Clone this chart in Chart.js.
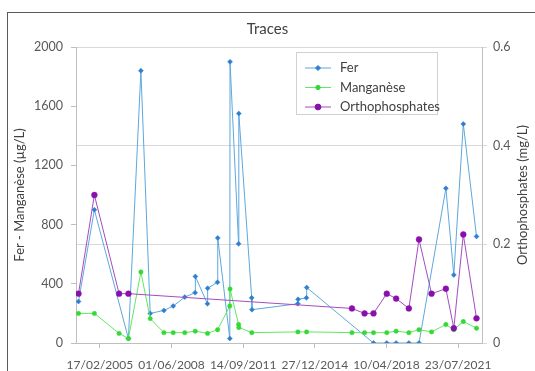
<!DOCTYPE html>
<html>
<head>
<meta charset="utf-8">
<script src="https://cdn.jsdelivr.net/npm/chart.js@4.4.1/dist/chart.umd.min.js"></script>
<style>
html, body { margin: 0; padding: 0; background: #fff; }
</style>
</head>
<body>
<canvas id="traces-chart" width="535" height="371"></canvas>
<script>
const ferDates = ['25/02/2004', '17/11/2004', '10/06/2006', '05/01/2007', '10/06/2007', '25/01/2008',
    '29/06/2008', '09/01/2009', '01/07/2009', '05/07/2009', '23/01/2010', '27/01/2010', '11/07/2010',
    '15/07/2010', '02/02/2011', '06/02/2011', '29/06/2011', '03/07/2011', '04/02/2012', '08/02/2012',
    '17/03/2014', '21/03/2014', '09/08/2014', '13/08/2014', '05/09/2017', '15/04/2018', '19/09/2018',
    '20/04/2019', '07/10/2019', '30/12/2020', '12/05/2021', '18/10/2021', '27/05/2022'];
const ferValues = [280, 900, 30, 1840, 200, 220, 250, 310, 340, 450, 265, 370, 410, 710, 30, 1900, 670,
    1550, 305, 225, 265, 295, 305, 375, 0, 0, 0, 0, 0, 1045, 460, 1480, 720];

const mnDates = ['25/02/2004', '17/11/2004', '05/01/2006', '10/06/2006', '05/01/2007', '10/06/2007',
    '25/01/2008', '29/06/2008', '09/01/2009', '03/07/2009', '25/01/2010', '13/07/2010', '02/02/2011',
    '06/02/2011', '29/06/2011', '03/07/2011', '06/02/2012', '19/03/2014', '11/08/2014', '09/09/2016',
    '08/04/2017', '05/09/2017', '15/04/2018', '19/09/2018', '20/04/2019', '07/10/2019', '04/05/2020',
    '30/12/2020', '12/05/2021', '18/10/2021', '27/05/2022'];
const mnValues = [200, 200, 65, 30, 480, 165, 70, 70, 70, 80, 65, 90, 250, 365, 125, 105, 70, 75, 75,
    70, 70, 70, 70, 80, 70, 90, 75, 125, 90, 145, 100];

const orthoDates = ['25/02/2004', '17/11/2004', '05/01/2006', '10/06/2006', '09/09/2016', '08/04/2017',
    '05/09/2017', '15/04/2018', '19/09/2018', '20/04/2019', '07/10/2019', '04/05/2020', '30/12/2020',
    '12/05/2021', '18/10/2021', '27/05/2022'];
const orthoValues = [0.1, 0.3, 0.1, 0.1, 0.07, 0.06, 0.06, 0.1, 0.09, 0.07, 0.21, 0.1, 0.11, 0.03, 0.22, 0.05];

const xTickDates = ['17/02/2005', '01/06/2008', '14/09/2011', '27/12/2014', '10/04/2018', '23/07/2021'];

// dates are handled as Excel serial numbers, like the original sheet
function toSerial(d) {
    const [dd, mm, yy] = d.split('/').map(Number);
    return Date.UTC(yy, mm - 1, dd) / 86400000 + 25569;
}
function fromSerial(s) {
    const d = new Date((s - 25569) * 86400000);
    const p = n => String(n).padStart(2, '0');
    return p(d.getUTCDate()) + '/' + p(d.getUTCMonth() + 1) + '/' + d.getUTCFullYear();
}
function points(dates, values) {
    return dates.map((d, i) => ({ x: toSerial(d), y: values[i] }));
}

const fontFamily = 'Lato, "Open Sans", sans-serif';
const textColor = '#595959';

const frame = {
    id: 'frame',
    beforeDraw(chart) {
        const ctx = chart.ctx;
        ctx.save();
        ctx.fillStyle = '#fff';
        ctx.fillRect(0, 0, chart.width, chart.height);
        ctx.strokeStyle = '#5a5a5a';
        ctx.lineWidth = 1;
        ctx.strokeRect(7.5, 12.5, 600, 600);
        ctx.restore();
    }
};

const rightTitle = {
    id: 'rightTitle',
    afterDraw(chart) {
        const ctx = chart.ctx;
        const area = chart.chartArea;
        ctx.save();
        ctx.translate(523, (area.top + area.bottom) / 2);
        ctx.rotate(-Math.PI / 2);
        ctx.font = '13px ' + fontFamily;
        ctx.fillStyle = '#404040';
        ctx.textAlign = 'center';
        ctx.textBaseline = 'middle';
        ctx.fillText('Orthophosphates (mg/L)', 0, 0);
        ctx.restore();
    }
};

const legendBox = {
    id: 'legendBox',
    afterDatasetsDraw(chart) {
        const ctx = chart.ctx;
        ctx.save();
        ctx.fillStyle = '#fff';
        ctx.fillRect(296, 52, 141, 62);
        ctx.strokeStyle = '#d0d0d0';
        ctx.lineWidth = 1;
        ctx.strokeRect(296.5, 52.5, 141, 62);
        chart.data.datasets.forEach((ds, i) => {
            const y = 68 + i * 19.5;
            ctx.strokeStyle = ds.borderColor;
            ctx.lineWidth = 1;
            ctx.beginPath();
            ctx.moveTo(305, y);
            ctx.lineTo(331, y);
            ctx.stroke();
            ctx.fillStyle = ds.pointBackgroundColor;
            ctx.strokeStyle = ds.pointBorderColor;
            Chart.helpers.drawPoint(ctx, {
                pointStyle: ds.pointStyle,
                radius: ds.pointRadius,
                rotation: 0,
                borderWidth: ds.pointBorderWidth
            }, 318, y);
            ctx.fillStyle = '#404040';
            ctx.font = '13px ' + fontFamily;
            ctx.textBaseline = 'middle';
            ctx.textAlign = 'left';
            ctx.fillText(ds.label, 340, y);
        });
        ctx.restore();
    }
};

const ctx = document.getElementById('traces-chart').getContext('2d');
const tracesChart = new Chart(ctx, {
    type: 'line',
    data: {
        datasets: [{
            label: 'Fer',
            data: points(ferDates, ferValues),
            yAxisID: 'y',
            borderColor: '#5ea8dd',
            borderWidth: 1,
            pointStyle: 'rectRot',
            pointRadius: 2.5,
            pointBorderWidth: 0.5,
            pointBackgroundColor: '#2f7fd0',
            pointBorderColor: '#2f7fd0',
            order: 2
        }, {
            label: 'Manganèse',
            data: points(mnDates, mnValues),
            yAxisID: 'y',
            borderColor: '#62e862',
            borderWidth: 1,
            pointStyle: 'circle',
            pointRadius: 2.2,
            pointBorderWidth: 0.5,
            pointBackgroundColor: '#35d935',
            pointBorderColor: '#35d935',
            order: 1
        }, {
            label: 'Orthophosphates',
            data: points(orthoDates, orthoValues),
            yAxisID: 'y1',
            borderColor: '#a54cbf',
            borderWidth: 1,
            pointStyle: 'circle',
            pointRadius: 2.9,
            pointBorderWidth: 0.5,
            pointBackgroundColor: '#8a10ad',
            pointBorderColor: '#8a10ad',
            order: 0
        }]
    },
    options: {
        responsive: false,
        animation: false,
        layout: { padding: 0 },
        plugins: {
            legend: { display: false },
            tooltip: { enabled: false },
            title: {
                display: true,
                text: 'Traces',
                color: '#404040',
                font: { family: fontFamily, size: 15, weight: 'normal' },
                padding: { top: 20, bottom: 9 }
            }
        },
        scales: {
            x: {
                type: 'linear',
                min: 38000,
                max: 44800,
                afterBuildTicks: scale => {
                    scale.ticks = xTickDates.map(d => ({ value: toSerial(d) }));
                },
                afterFit: scale => { scale.height = 28; },
                ticks: {
                    callback: value => fromSerial(value),
                    autoSkip: false,
                    maxRotation: 0,
                    padding: 10,
                    color: textColor,
                    font: { family: fontFamily, size: 12 }
                },
                grid: { drawOnChartArea: false, tickLength: 5, color: '#bfbfbf' },
                border: { color: '#bfbfbf' }
            },
            y: {
                position: 'left',
                min: 0,
                max: 2000,
                afterFit: scale => { scale.width = 76; },
                ticks: {
                    stepSize: 400,
                    padding: 8,
                    color: textColor,
                    font: { family: fontFamily, size: 12.5 },
                    callback: value => String(value)
                },
                grid: { drawOnChartArea: false, tickLength: 5, color: '#bfbfbf' },
                border: { color: '#bfbfbf' },
                title: {
                    display: true,
                    text: 'Fer - Manganèse (µg/L)',
                    color: '#404040',
                    font: { family: fontFamily, size: 13 },
                    padding: { top: 12, bottom: 0 }
                }
            },
            y1: {
                position: 'right',
                min: 0,
                max: 0.6,
                afterFit: scale => { scale.width = 53; },
                ticks: {
                    stepSize: 0.2,
                    padding: 6,
                    color: textColor,
                    font: { family: fontFamily, size: 12.5 },
                    callback: value => value === 0 ? '0' : value.toFixed(1)
                },
                grid: { drawOnChartArea: true, tickLength: 5, color: '#d9d9d9' },
                border: { color: '#bfbfbf' }
            }
        }
    },
    plugins: [frame, legendBox, rightTitle]
});
</script>
</body>
</html>
